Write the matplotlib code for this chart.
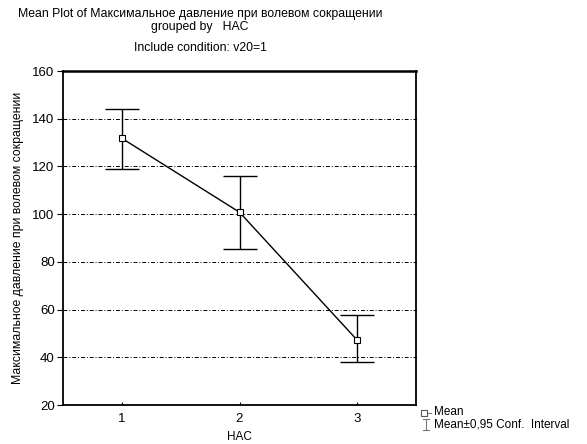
import matplotlib
matplotlib.use("Agg")
import matplotlib.pyplot as plt
from matplotlib.lines import Line2D

plt.rcParams['font.family'] = ['Liberation Sans', 'DejaVu Sans']

groups = [1, 2, 3]
means = [131.8, 100.8, 47.2]
upper = [144.2, 115.9, 57.6]
lower = [118.9, 85.5, 38.1]
yticks = [20, 40, 60, 80, 100, 120, 140, 160]

W, H = 587, 444
fig = plt.figure(figsize=(W/100, H/100), dpi=100)
ax = fig.add_axes([63/W, 1-405/H, (416-63)/W, (405-71)/H])

err_lo = [m - l for m, l in zip(means, lower)]
err_hi = [u - m for m, u in zip(means, upper)]
ax.errorbar(groups, means, yerr=[err_lo, err_hi], fmt='none', ecolor='black',
            elinewidth=1, capsize=12, capthick=1, zorder=3)
ax.plot(groups, means, color='black', linewidth=1, marker='s', markersize=4,
        markerfacecolor='white', markeredgecolor='black', markeredgewidth=0.8, zorder=4)

ax.set_xlim(0.5, 3.5)
ax.set_ylim(20, 160)
ax.set_xticks(groups)
ax.set_yticks(yticks)
for y in yticks[1:-1]:
    ax.axhline(y, color='black', linewidth=0.7, linestyle=(0, (4, 2, 1, 2)), zorder=1)
ax.tick_params(axis='both', labelsize=9.5, color='black')
ax.tick_params(axis='x', direction='in', length=2, pad=6)
ax.tick_params(axis='y', direction='out', length=4, left=True, right=False, pad=2)
for y in yticks:
    ax.plot([3.5 - 0.012, 3.5], [y, y], color='black', linewidth=0.8, clip_on=False, zorder=5)
for s in ax.spines.values():
    s.set_linewidth(1.3)
ax.spines['top'].set_linewidth(1.8)

ax.set_xlabel('HAC', fontsize=8.5, labelpad=4)
ax.set_ylabel('Максимальное давление при волевом сокращении', fontsize=8.8, labelpad=6)

fig.text(200/W, 1-14/H, 'Mean Plot of Максимальное давление при волевом сокращении',
         ha='center', va='center', fontsize=8.8)
fig.text(200/W, 1-27/H, 'grouped by   HAC', ha='center', va='center', fontsize=8.8)
fig.text(200/W, 1-48/H, 'Include condition: v20=1', ha='center', va='center', fontsize=8.8)

# legend
fig.add_artist(Line2D([421/W, 431/W], [1-413/H, 1-413/H], color='#777777', linewidth=0.8))
fig.add_artist(Line2D([424/W], [1-413/H], marker='s', markersize=4, markerfacecolor='white',
                      markeredgecolor='#555555', markeredgewidth=0.8, linewidth=0))
fig.add_artist(Line2D([426/W, 426/W], [1-419/H, 1-430/H], color='#777777', linewidth=0.8))
fig.add_artist(Line2D([423/W, 429/W], [1-419/H, 1-419/H], color='#777777', linewidth=0.8))
fig.add_artist(Line2D([423/W, 429/W], [1-430/H, 1-430/H], color='#777777', linewidth=0.8))
fig.text(434/W, 1-412/H, 'Mean', fontsize=8.5, ha='left', va='center')
fig.text(434/W, 1-424/H, 'Mean±0,95 Conf.  Interval', fontsize=8.5, ha='left', va='center')

fig.savefig('out.png', dpi=100)
